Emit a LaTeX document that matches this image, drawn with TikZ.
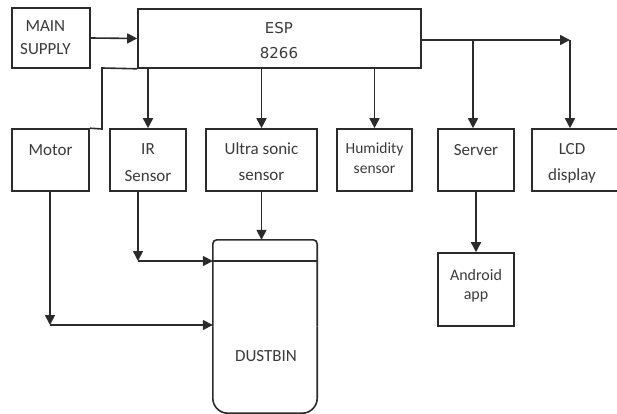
\documentclass[tikz,border=0pt]{standalone}
\usepackage{fontspec}
\setmainfont{Carlito}
\newfontfamily\espfont{DejaVu Sans}
\usetikzlibrary{arrows.meta}
\definecolor{ln}{HTML}{2B2B2B}
\definecolor{tx}{HTML}{3A3A3A}
\begin{document}
\begin{tikzpicture}[x=1pt,y=-1pt,
  box/.style={draw=ln,line width=1.6pt,inner sep=0pt,minimum height=62pt},
  lbl/.style={text=tx,font=\fontsize{17}{20}\selectfont,inner sep=0pt,align=center},
  arr/.style={draw=ln,line width=1.6pt,-{Triangle[length=10pt,width=10pt]}},
  ln/.style={draw=ln,line width=1.6pt}]
\useasboundingbox (0,0) rectangle (617,414);
% top
\node[box,minimum width=78pt,minimum height=60pt] (ms) at (51,38) {};
\node[lbl,anchor=west] (mst) at (20,38) {MAIN\\[3pt]SUPPLY};
\node[box,minimum width=283pt,minimum height=59pt] (esp) at (279.5,38.5) {};
\node[lbl,font=\espfont\fontsize{15}{17}\selectfont] (espt) at (279,28) {ESP};
\node[lbl,font=\espfont\fontsize{15}{17}\selectfont] (espn) at (279,53) {8266};
% row
\node[box,minimum width=77pt] (motor) at (50.5,160) {};
\node[lbl] (motort) at (50.5,150) {Motor};
\node[box,minimum width=76pt] (ir) at (148,160) {};
\node[lbl] (irt1) at (148,149) {IR};
\node[lbl] (irt2) at (148,176) {Sensor};
\node[box,minimum width=111pt] (us) at (261.5,160) {};
\node[lbl] (ust1) at (261.5,149) {Ultra sonic};
\node[lbl] (ust2) at (261.5,176) {sensor};
\node[box,minimum width=75pt] (hum) at (374.5,160) {};
\node[lbl,font=\fontsize{15.5}{18}\selectfont] (humt1) at (374.5,149) {Humidity};
\node[lbl,font=\fontsize{15.5}{18}\selectfont] (humt2) at (374.5,170) {sensor};
\node[box,minimum width=76pt] (srv) at (476,160) {};
\node[lbl] (srvt) at (476,150) {Server};
\node[box,minimum width=87pt] (lcd) at (575.5,160) {};
\node[lbl] (lcdt1) at (572,149) {LCD};
\node[lbl] (lcdt2) at (572,176) {display};
% android
\node[box,minimum width=76pt,minimum height=73pt] (and) at (476,289.5) {};
\node[lbl,font=\fontsize{16}{19}\selectfont] (andt1) at (476,275) {Android};
\node[lbl,font=\fontsize{16}{19}\selectfont] (andt2) at (476,297) {app};
% dustbin
\node[inner sep=0pt,minimum width=104pt,minimum height=173pt] (bin) at (265,326.5) {};
\draw[ln,rounded corners=4pt] (bin.west) |- (bin.north) -| (bin.east);
\draw[ln,rounded corners=15pt] (bin.east) |- (bin.south) -| (bin.west);
\coordinate (binl) at (213,261);
\draw[ln] (binl) -- (binl -| bin.east);
\node[lbl] (bint) at (266,356) {DUSTBIN};
% connectors
\draw[arr] (ms.east) -- (esp.west);
\coordinate (mc1) at (102,68);
\coordinate (mc2) at (102,129);
\draw[ln] (esp.south west) -- (mc1) -- (mc2) -- (motor.north east);
\draw[arr] (ir.north |- esp.south) -- (ir.north);
\draw[arr] (us.north |- esp.south) -- (us.north);
\draw[arr] (hum.north |- esp.south) -- (hum.north);
\coordinate (lc) at (570,40);
\coordinate (sc) at (473,40);
\draw[arr] (esp.east |- lc) -- (lc);
\draw[arr] (lc) -- (lc |- lcd.north);
\draw[arr] (sc) -- (sc |- srv.north);
\draw[arr] (srv.south) -- (and.north);
\draw[arr] (us.south) -- (us.south |- bin.north);
\coordinate (irc) at (138,261);
\coordinate (moc) at (50,325);
\draw[arr] (irc |- ir.south) -- (irc);
\draw[arr] (irc) -- (irc -| bin.west);
\draw[arr] (moc |- motor.south) -- (moc);
\draw[arr] (moc) -- (moc -| bin.west);
\end{tikzpicture}
\end{document}
